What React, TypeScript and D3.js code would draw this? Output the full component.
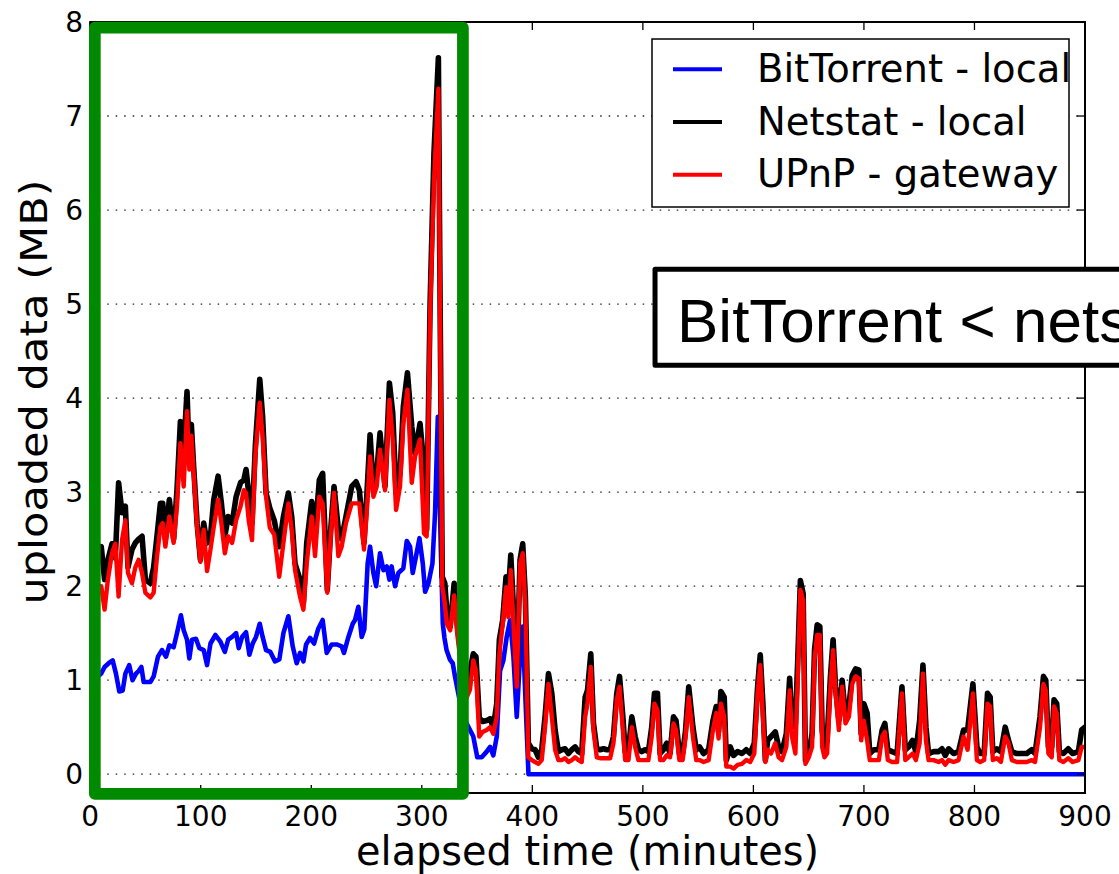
import React from 'react';
import * as d3 from 'd3';

// ---------- data ----------
const localTime = [
  3, 10, 13, 16, 19.7, 22.7, 25.7, 28.8, 31.8, 34.2,
  37.8, 40.8, 43.8, 46.9, 49.9, 54.4, 57.4, 60.4, 63.5, 65.6,
  68, 71.6, 75.5, 78.5, 81.6, 84.6, 87.6, 89.7, 91.5, 93.6,
  96.7, 99.7, 102.7, 105.7, 108.8, 111.8, 115.7, 118.7, 121.8, 124.8,
  128.4, 132, 136, 139, 141, 143.4, 146.4, 149.4, 153.4, 156,
  159.1, 162.5, 166.5, 171, 174.8, 179.3, 182.3, 185.3, 189.8, 192.9,
  195.9, 200.4, 203.4, 207.3, 210.3, 214.5, 217.6, 220.6, 224.5, 227.5,
  231.4, 236.6, 240.5, 243.5, 247.7, 250.2, 253.2, 256.2, 259.2, 262.2,
  266.7, 270.7, 273.7, 276.7, 280.3, 283.3, 287, 290.9, 293.9, 298.4,
  302, 304.4, 307.5, 311, 315, 316.5, 318.5, 320.8, 322.6, 325.7,
  329.3, 332, 336, 340, 343.6, 346.6, 349, 352, 355, 358.7,
  361.8, 364.7, 367.8, 370.2, 373.2, 376.2, 378.3, 380.5, 382.9, 385.9,
  388.9, 391.3, 393.7, 396.4, 399.5, 402.5, 405.5, 408.5, 411.5, 414.6,
  417.6, 420.6, 423.6, 426.6, 429.6, 432.7, 435.7, 438.7, 441.7, 444.7,
  447.8, 449.9, 452.9, 455.3, 458.3, 461.3, 464.4, 467.4, 470.4, 473.4,
  476.4, 478.9, 481.9, 484, 487, 490, 493, 496, 499, 502,
  505, 508, 510.5, 513.2, 515.6, 518.6, 521.6, 524.6, 527.7, 530,
  533, 536, 538.5, 541.5, 545.3, 548.3, 551.3, 554.9, 559.5, 563.4,
  566.4, 568.5, 570.6, 573.6, 575.5, 579.1, 582.1, 585.7, 589.6, 593.5,
  597.1, 600.8, 603.8, 606.2, 608.6, 610.8, 612.9, 615.9, 619.8, 622.8,
  625.9, 629.8, 632.8, 634.9, 638, 640.1, 642.5, 645, 647.1, 650.1,
  653.1, 655.3, 657.7, 660.1, 662.2, 664.3, 666.7, 669.7, 672.1, 674.3,
  677.3, 680.3, 683.3, 686.4, 689.4, 692.4, 695.4, 697.5, 699.9, 702.9,
  705.3, 709, 713.5, 716.5, 718.9, 721.6, 725.5, 730, 734.4, 737.4,
  740.4, 744, 747, 750.4, 753.4, 756.1, 758.5, 763, 767.5, 770.6,
  773.6, 776.6, 781.1, 785.6, 790.1, 793.8, 798.6, 802.2, 805.2, 808.8,
  811.8, 814.2, 816.6, 820.3, 823.9, 827.8, 830.8, 833.8, 838.3, 842.8,
  847.3, 851.8, 854.8, 859.3, 862.4, 864.5, 866.9, 869.9, 872, 874.4,
  876.8, 880.4, 884.9, 888.8, 894, 897, 900,
];

const netstatLocal = [
  2.30, 2.42, 2.07, 2.28, 2.45, 2.30, 3.10, 2.78, 2.85, 2.20,
  2.39, 2.46, 2.50, 2.53, 2.07, 2.03, 2.20, 2.53, 2.88, 2.88,
  2.50, 2.92, 2.50, 3.02, 3.75, 3.45, 4.07, 3.31, 3.72, 3.27,
  2.67, 2.28, 2.67, 2.46, 2.53, 2.92, 3.17, 2.88, 2.53, 2.74,
  2.67, 2.95, 3.10, 3.13, 3.24, 2.99, 2.67, 3.49, 4.20, 3.80,
  2.99, 2.83, 2.70, 2.42, 2.74, 2.99, 2.74, 2.24, 2.07, 1.82,
  2.46, 2.90, 2.56, 3.13, 3.20, 1.96, 2.60, 3.06, 2.60, 2.50,
  2.74, 3.06, 3.11, 3.02, 2.46, 2.95, 3.61, 3.02, 3.20, 3.63,
  3.06, 4.16, 3.84, 2.99, 3.20, 3.91, 4.27, 3.70, 3.41, 3.73,
  3.27, 2.60, 5.00, 6.60, 7.62, 5.10, 2.10, 2.03, 1.74, 1.57,
  2.03, 1.60, 1.20, 0.90, 1.10, 1.28, 1.25, 0.60, 0.56, 0.57,
  0.59, 0.50, 0.75, 1.43, 1.64, 2.10, 1.92, 2.33, 1.78, 1.00,
  2.28, 2.45, 1.89, 0.33, 0.27, 0.26, 0.18, 0.26, 0.61, 1.07,
  0.86, 0.47, 0.24, 0.26, 0.27, 0.22, 0.26, 0.29, 0.24, 0.22,
  0.82, 0.89, 1.28, 0.54, 0.27, 0.26, 0.27, 0.26, 0.26, 0.40,
  0.86, 1.04, 0.61, 0.24, 0.26, 0.61, 0.40, 0.26, 0.24, 0.26,
  0.24, 0.50, 0.86, 0.86, 0.22, 0.26, 0.33, 0.22, 0.61, 0.57,
  0.22, 0.22, 0.45, 0.93, 0.50, 0.26, 0.29, 0.22, 0.26, 0.57,
  0.72, 0.45, 0.88, 0.82, 0.15, 0.29, 0.20, 0.24, 0.22, 0.26,
  0.22, 0.33, 0.93, 1.27, 0.75, 0.15, 0.36, 0.40, 0.45, 0.29,
  0.24, 0.43, 1.02, 0.50, 0.54, 1.21, 2.06, 1.92, 0.15, 0.22,
  0.43, 1.32, 1.59, 1.57, 0.47, 0.26, 0.36, 1.04, 1.43, 0.93,
  0.57, 1.00, 0.61, 0.72, 1.05, 1.12, 1.11, 0.43, 0.75, 0.65,
  0.22, 0.26, 0.26, 0.47, 0.54, 0.26, 0.24, 0.22, 0.93, 0.26,
  0.29, 0.36, 0.24, 0.57, 1.16, 0.50, 0.22, 0.24, 0.24, 0.27,
  0.20, 0.27, 0.22, 0.24, 0.47, 0.47, 0.96, 0.29, 0.22, 0.22,
  0.86, 0.82, 0.24, 0.27, 0.24, 0.50, 0.36, 0.24, 0.22, 0.22,
  0.22, 0.26, 0.22, 0.61, 1.04, 1.00, 0.29, 0.29, 0.79, 0.75,
  0.24, 0.22, 0.27, 0.22, 0.24, 0.47, 0.50,
];

const upnpGateway = [
  2.00, 2.00, 1.75, 2.07, 2.35, 2.45, 1.89, 2.49, 2.70, 2.14,
  2.03, 2.20, 2.28, 2.14, 1.93, 1.88, 1.93, 2.31, 2.63, 2.67,
  2.42, 2.74, 2.46, 2.85, 3.52, 3.06, 3.86, 3.24, 3.60, 3.20,
  2.63, 2.26, 2.60, 2.16, 2.39, 2.63, 2.92, 2.67, 2.35, 2.53,
  2.46, 2.70, 2.85, 3.02, 2.99, 2.70, 2.49, 3.38, 3.95, 3.59,
  2.95, 2.62, 2.55, 2.10, 2.46, 2.88, 2.60, 2.17, 1.89, 1.75,
  2.24, 2.74, 2.32, 2.95, 2.88, 1.93, 2.53, 2.99, 2.32, 2.42,
  2.67, 2.88, 2.88, 2.88, 2.39, 2.78, 3.38, 2.95, 3.06, 3.45,
  3.02, 3.98, 3.56, 2.81, 3.06, 3.73, 4.09, 3.10, 3.38, 3.56,
  2.56, 2.53, 4.90, 6.30, 7.29, 4.90, 2.00, 1.82, 1.60, 1.53,
  1.90, 1.50, 1.10, 0.80, 0.90, 1.21, 1.10, 0.40, 0.45, 0.47,
  0.50, 0.43, 0.61, 1.28, 1.60, 1.99, 1.67, 2.17, 1.60, 0.93,
  2.24, 2.35, 1.78, 0.18, 0.15, 0.13, 0.11, 0.15, 0.50, 0.96,
  0.61, 0.26, 0.15, 0.15, 0.17, 0.13, 0.15, 0.18, 0.15, 0.13,
  0.61, 0.75, 1.14, 0.47, 0.18, 0.17, 0.17, 0.17, 0.17, 0.33,
  0.79, 0.93, 0.47, 0.15, 0.15, 0.50, 0.29, 0.15, 0.15, 0.15,
  0.15, 0.40, 0.75, 0.68, 0.15, 0.15, 0.20, 0.18, 0.54, 0.47,
  0.15, 0.15, 0.38, 0.82, 0.40, 0.15, 0.15, 0.13, 0.15, 0.47,
  0.65, 0.38, 0.75, 0.61, 0.08, 0.08, 0.06, 0.10, 0.11, 0.15,
  0.13, 0.22, 0.86, 1.16, 0.61, 0.13, 0.26, 0.22, 0.33, 0.18,
  0.15, 0.29, 0.89, 0.40, 0.22, 1.00, 1.96, 1.85, 0.11, 0.18,
  0.29, 1.22, 1.48, 1.48, 0.29, 0.18, 0.22, 0.93, 1.32, 0.86,
  0.47, 0.93, 0.54, 0.61, 0.96, 1.04, 1.02, 0.36, 0.57, 0.36,
  0.15, 0.15, 0.15, 0.40, 0.45, 0.15, 0.13, 0.13, 0.86, 0.15,
  0.18, 0.22, 0.15, 0.33, 1.07, 0.36, 0.15, 0.15, 0.13, 0.15,
  0.10, 0.15, 0.13, 0.15, 0.40, 0.26, 0.86, 0.15, 0.13, 0.15,
  0.75, 0.72, 0.15, 0.17, 0.13, 0.40, 0.33, 0.15, 0.13, 0.13,
  0.13, 0.15, 0.13, 0.50, 0.96, 0.89, 0.22, 0.18, 0.72, 0.65,
  0.15, 0.13, 0.17, 0.13, 0.15, 0.29, 0.29,
];

const btTime = [
  3, 10, 13, 16.7, 20.3, 23.3, 26.3, 29.4, 31.8, 35.3,
  38.3, 41.4, 44, 46.3, 48.4, 54.4, 57.4, 61.3, 64.9, 68.6,
  71.6, 75.5, 78.5, 82.1, 84.6, 87.6, 89.7, 92.1, 95.7, 98.8,
  102.7, 105.7, 108.8, 113.3, 117.8, 121.8, 124.8, 128.4, 132, 134.4,
  137.4, 141, 144, 147, 150, 153.4, 156, 159.1, 163, 167.2,
  171.1, 174.8, 179.3, 183.2, 186.8, 189.8, 192.9, 195.3, 198.9, 202.5,
  206.4, 210.3, 214, 218.5, 223, 227.5, 229.6, 233.6, 237.5, 239.6,
  242.6, 245.6, 248, 251, 253.2, 256.2, 258.7, 262.2, 265.3, 268.3,
  270.7, 272.7, 275.8, 278.8, 283.3, 286.4, 289.4, 291.8, 294.8, 297.9,
  300.9, 303, 306, 309.6, 312, 314.5, 317.2, 319, 320.5, 322.4,
  325.4, 328, 330, 334, 338, 343.6, 346.6, 350.2, 354.2, 358.7,
  361.8, 364.7, 367.8, 370.8, 373.8, 376.8, 379.9, 382.9, 385.9, 388.9,
  391.3, 393.7, 396.5, 900,
];

const btLocal = [
  1.00, 1.07, 1.14, 1.18, 1.21, 1.07, 0.88, 0.89, 1.07, 1.16,
  1.00, 1.07, 1.10, 1.14, 0.98, 0.98, 1.04, 1.25, 1.32, 1.25,
  1.37, 1.35, 1.50, 1.69, 1.53, 1.43, 1.23, 1.43, 1.44, 1.34,
  1.32, 1.16, 1.39, 1.48, 1.41, 1.30, 1.43, 1.46, 1.50, 1.34,
  1.46, 1.51, 1.27, 1.39, 1.46, 1.60, 1.46, 1.32, 1.30, 1.20,
  1.22, 1.50, 1.68, 1.36, 1.18, 1.29, 1.20, 1.38, 1.45, 1.39,
  1.55, 1.64, 1.29, 1.38, 1.38, 1.36, 1.29, 1.46, 1.60, 1.64,
  1.78, 1.46, 1.54, 2.24, 2.42, 2.14, 2.00, 2.35, 2.17, 2.21,
  2.07, 2.21, 2.00, 2.14, 2.19, 2.48, 2.42, 2.14, 2.32, 2.51,
  2.24, 1.94, 2.03, 2.24, 2.78, 3.80, 2.40, 1.60, 1.45, 1.32,
  1.22, 1.18, 1.04, 0.80, 0.60, 0.47, 0.40, 0.18, 0.18, 0.24,
  0.29, 0.20, 0.40, 1.10, 1.21, 1.46, 1.64, 1.25, 0.61, 1.25,
  1.57, 0.82, 0.00, 0.00,
];

const xTicks = [0, 100, 200, 300, 400, 500, 600, 700, 800, 900];
const yTicks = [0, 1, 2, 3, 4, 5, 6, 7, 8];
const legendLabels = ['BitTorrent - local', 'Netstat - local', 'UPnP - gateway'];
const legendColors = ['#0000ff', '#000000', '#ff0000'];
const xLabel = 'elapsed time (minutes)';
const yLabel = 'uploaded data (MB)';
const annotationText = 'BitTorrent < netstat';
// highlighted window [t0, t1] x [v0, v1] in data units
const highlightT = [4.2, 337.2];
const highlightV = [-0.21, 7.94];
// annotation box position in data units (left, top, bottom)
const annotT = 511;
const annotV = [5.37, 4.35];

// ---------- chart ----------
const W = 1119;
const H = 874;

export default function App() {
  const x = d3.scaleLinear().domain([0, 900]).range([90.2, 1085]);
  const y = d3.scaleLinear().domain([-0.2, 8]).range([793, 22]);

  const toPts = (ts: number[], vs: number[]) => {
    const n = Math.min(ts.length, vs.length);
    const out: [number, number][] = [];
    for (let i = 0; i < n; i++) out.push([ts[i], vs[i]]);
    return out;
  };
  const line = d3
    .line<[number, number]>()
    .x((d) => x(d[0]))
    .y((d) => y(d[1]));

  const btPath = line(toPts(btTime, btLocal)) || '';
  const netPath = line(toPts(localTime, netstatLocal)) || '';
  const upnpPath = line(toPts(localTime, upnpGateway)) || '';

  const [x0, x1] = x.range();
  const yTop = y(8);
  const yBot = y(-0.2);
  const tick = 8;

  const gx0 = x(highlightT[0]);
  const gx1 = x(highlightT[1]);
  const gy0 = y(highlightV[1]);
  const gy1 = y(highlightV[0]);

  const ax = x(annotT);
  const ay0 = y(annotV[0]);
  const ay1 = y(annotV[1]);

  const tickFont = 'DejaVu Sans, sans-serif';

  return (
    <svg
      width={W}
      height={H}
      viewBox={`0 0 ${W} ${H}`}
      style={{ position: 'absolute', left: 0, top: 0, background: '#fff' }}
    >
      <defs>
        <clipPath id="plotClip">
          <rect x={x0} y={yTop} width={x1 - x0} height={yBot - yTop} />
        </clipPath>
      </defs>
      <rect x={0} y={0} width={W} height={H} fill="#fff" />

      {/* grid */}
      <g>
        {yTicks.map((t) => (
          <line
            key={'g' + t}
            x1={x0}
            x2={x1}
            y1={y(t)}
            y2={y(t)}
            stroke="#222"
            strokeWidth={1.3}
            strokeDasharray="1.5,7"
          />
        ))}
      </g>

      {/* series */}
      <g clipPath="url(#plotClip)" fill="none" strokeLinejoin="round" strokeLinecap="round">
        <path d={btPath} stroke={legendColors[0]} strokeWidth={4.6} />
        <path d={netPath} stroke={legendColors[1]} strokeWidth={5.6} />
        <path d={upnpPath} stroke={legendColors[2]} strokeWidth={4.4} />
      </g>

      {/* spines */}
      <rect x={x0} y={yTop} width={x1 - x0} height={yBot - yTop} fill="none" stroke="#000" strokeWidth={2} />

      {/* ticks */}
      <g stroke="#000" strokeWidth={1.3}>
        {xTicks.map((t) => (
          <g key={'xt' + t}>
            <line x1={x(t)} x2={x(t)} y1={yBot} y2={yBot - tick} />
            <line x1={x(t)} x2={x(t)} y1={yTop} y2={yTop + tick} />
          </g>
        ))}
        {yTicks.map((t) => (
          <g key={'yt' + t}>
            <line x1={x0} x2={x0 + tick} y1={y(t)} y2={y(t)} />
            <line x1={x1} x2={x1 - tick} y1={y(t)} y2={y(t)} />
          </g>
        ))}
      </g>

      {/* tick labels */}
      <g fontFamily={tickFont} fontSize={28} fill="#000">
        {xTicks.map((t) => (
          <text key={'xl' + t} x={x(t)} y={826} textAnchor="middle">
            {t}
          </text>
        ))}
        {yTicks.map((t) => (
          <text key={'yl' + t} x={83} y={y(t) + 10} textAnchor="end">
            {t}
          </text>
        ))}
      </g>

      {/* axis labels */}
      <text
        x={(x0 + x1) / 2}
        y={865}
        textAnchor="middle"
        fontFamily={tickFont}
        fontSize={41}
        textLength={463}
        lengthAdjust="spacingAndGlyphs"
      >
        {xLabel}
      </text>
      <text
        transform={`translate(47, 392) rotate(-90)`}
        textAnchor="middle"
        fontFamily={tickFont}
        fontSize={37}
        textLength={425}
        lengthAdjust="spacingAndGlyphs"
      >
        {yLabel}
      </text>

      {/* legend */}
      <g>
        <rect x={652} y={39} width={417} height={168} fill="#fff" stroke="#000" strokeWidth={1.5} />
        {legendLabels.map((lab, i) => {
          const ly = 69.3 + i * 52.7;
          return (
            <g key={lab}>
              <line x1={673} x2={722} y1={ly} y2={ly} stroke={legendColors[i]} strokeWidth={4} />
              <text x={757} y={ly + 12.6} fontFamily={tickFont} fontSize={38.5} fill="#000">
                {lab}
              </text>
            </g>
          );
        })}
      </g>

      {/* annotation box */}
      <g>
        <rect x={ax} y={ay0} width={W - ax + 20} height={ay1 - ay0} fill="#fff" stroke="#000" strokeWidth={5} strokeLinejoin="round" />
        <text x={ax + 22} y={ay0 + 72.5} fontFamily="Liberation Sans, Arial, sans-serif" fontSize={62} fill="#000">
          {annotationText}
        </text>
      </g>

      {/* highlight window */}
      <rect
        x={gx0}
        y={gy0}
        width={gx1 - gx0}
        height={gy1 - gy0}
        fill="none"
        stroke="#008a00"
        strokeWidth={11.7}
        strokeLinejoin="round"
      />
    </svg>
  );
}
